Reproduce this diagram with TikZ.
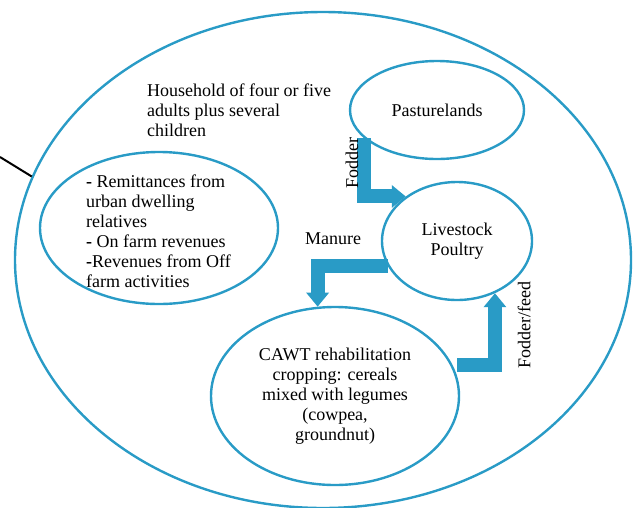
\documentclass[tikz,border=0pt]{standalone}
\usepackage{fontspec}
\setmainfont{Liberation Serif}
\usetikzlibrary{shapes.geometric,arrows.meta}
\definecolor{ringblue}{RGB}{41,155,198}
\begin{document}
\begin{tikzpicture}[x=1pt, y=-1pt,
    font=\fontsize{18}{20}\selectfont,
    ring/.style={ellipse, draw=ringblue, line width=2.4pt, inner sep=0pt},
    flow/.style={draw=ringblue, line width=14pt, -{Triangle[width=22pt, length=14pt]}}]
    \useasboundingbox (0,0) rectangle (637,507);
    \node (farm) at (323,260) [ring, minimum width=616pt, minimum height=496pt] {};
    \node (income) at (159,228) [ring, minimum width=238pt, minimum height=152pt] {};
    \node (pasture) at (437,110) [ring, minimum width=174pt, minimum height=98pt] {Pasturelands};
    \node (livestock) at (457,241) [ring, minimum width=150pt, minimum height=118pt, align=center] {Livestock\\Poultry};
    \node (cawt) at (335,396) [ring, minimum width=248pt, minimum height=178pt, align=center]
        {CAWT rehabilitation\\cropping: cereals\\mixed with legumes\\(cowpea,\\groundnut)};
    \node (household) at (147,110) [anchor=west, inner sep=0pt, align=left]
        {Household of four or five\\adults plus several\\children};
    \node (revenues) at (86,231) [anchor=west, inner sep=0pt, align=left]
        {\textbf{-} Remittances from\\urban dwelling\\relatives\\\textbf{-} On farm revenues\\\textbf{-}Revenues from Off\\farm activities};
    \coordinate (outside) at (0,157);
    \draw[line width=2pt] (outside) -- (farm.164);
    % Draw the flows between the units
    \draw[flow] (pasture.201) |- (livestock.139);
    \draw[flow] (livestock.200) -| (cawt.101);
    \draw[flow] ([xshift=5pt]cawt.15) -| (livestock.-54);
    \node (fodder) at (352,163) [rotate=90] {Fodder};
    \node (manure) at (333,239) {Manure};
    \node (feed) at (524,325) [rotate=90] {Fodder/feed};
\end{tikzpicture}
\end{document}
